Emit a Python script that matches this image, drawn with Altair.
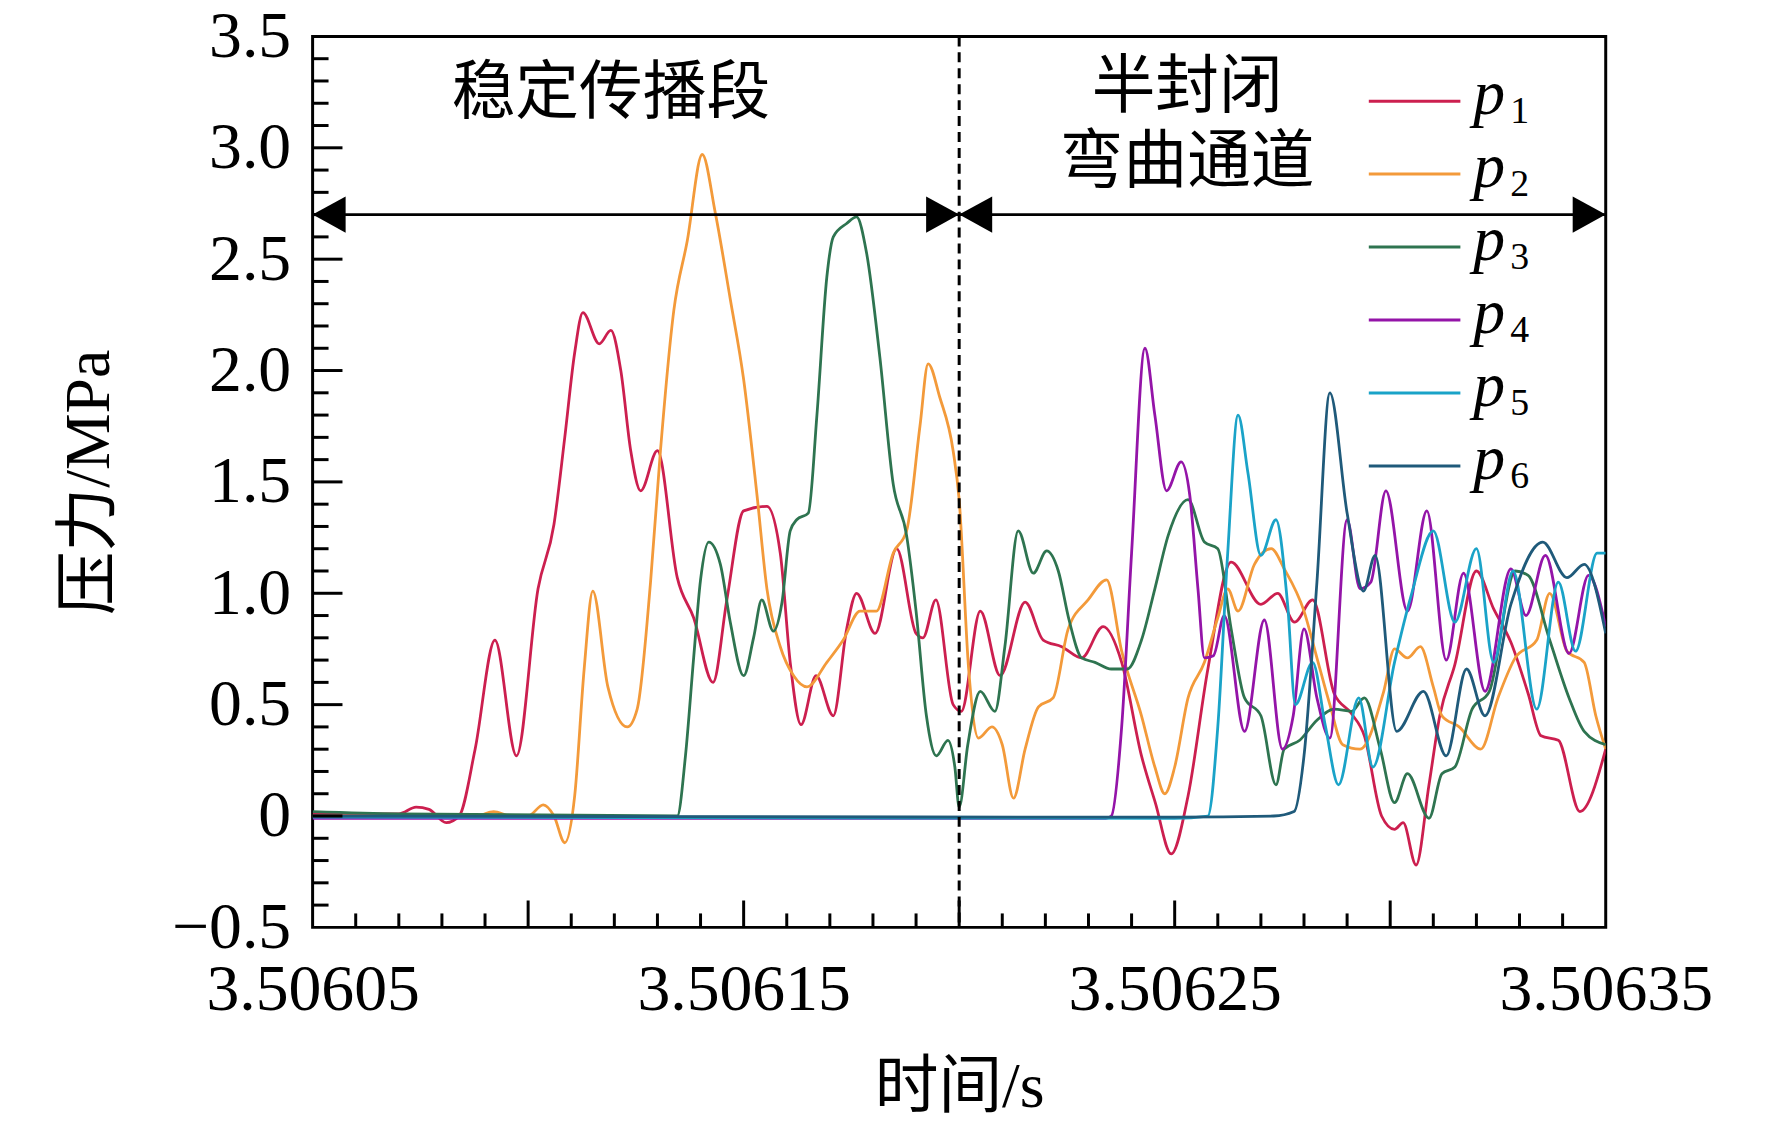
import altair as alt
import pandas as pd

# ---------------- data ----------------
names = ["p1", "p2", "p3", "p4", "p5", "p6"]
colors = ["#cc1f4f", "#f39a3a", "#2e7450", "#9414a8", "#1aa3c8", "#1f5a7a"]

p1_t = [3.50605, 3.506065, 3.50607, 3.506074, 3.506077, 3.506081, 3.506084, 3.5060877,
        3.5060923, 3.5060973, 3.5061023, 3.506106, 3.5061085, 3.5061108, 3.5061127,
        3.5061165, 3.5061192, 3.5061215, 3.5061238, 3.5061261, 3.50613, 3.5061346,
        3.5061384, 3.5061429, 3.5061461, 3.50615, 3.5061554, 3.5061585, 3.5061608,
        3.5061633, 3.5061668, 3.5061708, 3.5061739, 3.5061762, 3.5061805, 3.5061855,
        3.50619, 3.5061916, 3.5061946, 3.5061986, 3.5062005, 3.5062049, 3.5062095,
        3.5062153, 3.5062195, 3.5062238, 3.5062284, 3.5062334, 3.5062377, 3.5062423,
        3.5062455, 3.5062492, 3.5062531, 3.5062577, 3.5062631, 3.50627, 3.5062739,
        3.5062778, 3.506282, 3.506287, 3.506291, 3.506294, 3.506298, 3.506301,
        3.506303, 3.506306, 3.506309, 3.5063115, 3.506315, 3.50632, 3.506324,
        3.506328, 3.506332, 3.506335, 3.506339, 3.506344, 3.50635]
p1_v = [0.01, 0.01, 0.01, 0.04, 0.03, -0.03, 0.0, 0.30,
        0.79, 0.27, 1.02, 1.31, 1.70, 2.08, 2.26,
        2.12, 2.18, 2.00, 1.64, 1.46, 1.64, 1.07,
        0.89, 0.60, 0.97, 1.37, 1.39, 1.18, 0.69,
        0.41, 0.63, 0.45, 0.84, 1.00, 0.82, 1.20,
        0.82, 0.80, 0.97, 0.50, 0.47, 0.92, 0.63,
        0.96, 0.79, 0.76, 0.71, 0.85, 0.69, 0.27,
        0.06, -0.17, 0.09, 0.66, 1.14, 0.95, 1.00,
        0.87, 0.97, 0.55, 0.46, 0.36, 0.0, -0.06,
        -0.03, -0.22, 0.14, 0.45, 0.68, 1.10, 0.93,
        0.78, 0.55, 0.36, 0.34, 0.02, 0.30]

p2_t = [3.50605, 3.506088, 3.506092, 3.506096, 3.5061, 3.5061035, 3.506106, 3.5061085,
        3.5061108, 3.506113, 3.506115, 3.5061185, 3.506123, 3.5061253, 3.5061284,
        3.5061307, 3.5061338, 3.5061369, 3.5061404, 3.5061434, 3.5061469, 3.50615,
        3.5061531, 3.5061554, 3.5061585, 3.5061616, 3.5061647, 3.5061693, 3.5061731,
        3.506177, 3.5061808, 3.5061847, 3.5061878, 3.5061909, 3.5061928, 3.5061955,
        3.5061986, 3.5062, 3.5062022, 3.5062045, 3.5062076, 3.50621, 3.5062126,
        3.5062153, 3.5062184, 3.5062218, 3.5062253, 3.5062299, 3.5062342, 3.5062377,
        3.5062423, 3.5062454, 3.5062477, 3.50625, 3.5062531, 3.5062569, 3.50626,
        3.5062623, 3.5062647, 3.5062685, 3.5062724, 3.5062754, 3.50628, 3.506283,
        3.506286, 3.506289, 3.506293, 3.5062985, 3.506301, 3.506304, 3.506307,
        3.50631, 3.506312, 3.506316, 3.506321, 3.506325, 3.506329, 3.506334,
        3.506337, 3.506341, 3.506345, 3.5063477, 3.50635]
p2_v = [0.0, 0.0, 0.02, 0.0, 0.0, 0.05, 0.0, -0.12,
        0.09, 0.66, 1.01, 0.58, 0.40, 0.48, 1.05,
        1.64, 2.27, 2.58, 2.97, 2.71, 2.32, 1.96,
        1.44, 1.02, 0.76, 0.63, 0.58, 0.69, 0.79,
        0.92, 0.92, 1.18, 1.28, 1.75, 2.03, 1.88,
        1.64, 1.42, 0.66, 0.35, 0.40, 0.32, 0.08,
        0.30, 0.49, 0.53, 0.84, 0.97, 1.06, 0.74,
        0.45, 0.22, 0.10, 0.22, 0.53, 0.69, 0.89,
        1.02, 0.92, 1.13, 1.20, 1.11, 0.92, 0.71,
        0.50, 0.32, 0.30, 0.56, 0.75, 0.71, 0.76,
        0.58, 0.45, 0.40, 0.30, 0.53, 0.71, 0.79,
        1.00, 0.74, 0.69, 0.45, 0.30]

p3_t = [3.50605, 3.50607, 3.5061346, 3.5061365, 3.5061384, 3.50614, 3.5061419, 3.5061446,
        3.5061469, 3.50615, 3.5061523, 3.5061542, 3.5061569, 3.5061589, 3.5061608,
        3.5061623, 3.506165, 3.506167, 3.5061693, 3.5061708, 3.5061739, 3.5061762,
        3.5061785, 3.5061816, 3.5061847, 3.5061878, 3.50619, 3.5061924, 3.5061947,
        3.5061974, 3.506199, 3.5062, 3.506202, 3.5062049, 3.5062083, 3.5062106,
        3.5062137, 3.5062172, 3.5062203, 3.506223, 3.5062255, 3.5062284, 3.5062315,
        3.5062353, 3.506239, 3.5062423, 3.5062454, 3.5062485, 3.5062531, 3.5062569,
        3.50626, 3.5062631, 3.5062662, 3.50627, 3.5062735, 3.5062754, 3.506279,
        3.506283, 3.506287, 3.506291, 3.506294, 3.5062977, 3.506301, 3.506304,
        3.506309, 3.506312, 3.506315, 3.506319, 3.506323, 3.506329, 3.506332,
        3.506337, 3.5063415, 3.506345, 3.50635]
p3_v = [0.02, 0.01, 0.0, 0.27, 0.71, 1.06, 1.23, 1.13,
        0.87, 0.63, 0.80, 0.97, 0.83, 0.96, 1.28,
        1.33, 1.36, 1.80, 2.42, 2.60, 2.66, 2.69,
        2.53, 2.06, 1.49, 1.26, 0.92, 0.45, 0.27,
        0.34, 0.22, 0.04, 0.32, 0.56, 0.47, 0.76,
        1.28, 1.09, 1.19, 1.10, 0.88, 0.71, 0.69,
        0.66, 0.66, 0.79, 1.02, 1.26, 1.42, 1.23,
        1.20, 0.84, 0.53, 0.45, 0.14, 0.30, 0.34,
        0.43, 0.48, 0.47, 0.53, 0.30, 0.06, 0.19,
        -0.01, 0.19, 0.22, 0.48, 0.56, 1.10, 1.08,
        0.79, 0.53, 0.38, 0.32]

p4_t = [3.50605, 3.506234, 3.5062353, 3.5062377, 3.50624, 3.5062431, 3.5062454, 3.5062481,
        3.5062515, 3.5062535, 3.5062554, 3.5062569, 3.506259, 3.5062615, 3.5062662,
        3.5062708, 3.506275, 3.5062775, 3.50628, 3.506283, 3.506286, 3.50629,
        3.506293, 3.5062955, 3.506299, 3.506304, 3.5063085, 3.506313, 3.506317,
        3.506322, 3.506328, 3.5063315, 3.506336, 3.5063415, 3.506346, 3.50635]
p4_v = [-0.01, -0.01, 0.0, 0.40, 1.18, 2.10, 1.80, 1.46,
        1.59, 1.44, 1.02, 0.71, 0.72, 0.90, 0.38,
        0.88, 0.30, 0.45, 0.84, 0.53, 0.35, 1.33,
        1.02, 1.05, 1.46, 0.92, 1.37, 0.70, 1.09,
        0.56, 1.11, 0.90, 1.17, 0.73, 1.08, 0.85]

p5_t = [3.50605, 3.50625, 3.5062577, 3.50626, 3.5062623, 3.5062647, 3.506267, 3.50627,
        3.5062735, 3.5062762, 3.506278, 3.506282, 3.506285, 3.506288, 3.5062927,
        3.506296, 3.506301, 3.506305, 3.50631, 3.506315, 3.50632, 3.506324,
        3.5063285, 3.506334, 3.506339, 3.506343, 3.506348, 3.50635]
p5_v = [-0.005, -0.01, 0.0, 0.40, 1.18, 1.80, 1.54, 1.17,
        1.33, 0.95, 0.50, 0.69, 0.40, 0.14, 0.53,
        0.22, 0.69, 1.00, 1.28, 0.87, 1.20, 0.69,
        1.10, 0.48, 1.05, 0.74, 1.18, 1.18]

p6_t = [3.50605, 3.50625, 3.506273, 3.5062777, 3.50628, 3.506283, 3.506286, 3.50629,
        3.5062938, 3.5062965, 3.5063015, 3.5063077, 3.506313, 3.5063177, 3.506322,
        3.506328, 3.5063354, 3.506341, 3.506345, 3.50635]
p6_v = [0.0, -0.005, 0.0, 0.02, 0.27, 1.05, 1.90, 1.36,
        1.01, 1.17, 0.38, 0.56, 0.27, 0.66, 0.45,
        0.95, 1.23, 1.07, 1.13, 0.82]

x_label_values = [3.50605, 3.50615, 3.50625, 3.50635]
y_label_values = [-0.5, 0.0, 0.5, 1.0, 1.5, 2.0, 2.5, 3.0, 3.5]
x_minor_ticks = [3.50606, 3.50607, 3.50608, 3.50609, 3.50611, 3.50612, 3.50613, 3.50614,
                 3.50616, 3.50617, 3.50618, 3.50619, 3.50621, 3.50622, 3.50623, 3.50624,
                 3.50626, 3.50627, 3.50628, 3.50629, 3.50631, 3.50632, 3.50633, 3.50634]
x_major_ticks = [3.50610, 3.50615, 3.50620, 3.50625, 3.50630]
y_minor_ticks = [-0.4, -0.3, -0.2, -0.1, 0.1, 0.2, 0.3, 0.4, 0.6, 0.7, 0.8, 0.9,
                 1.1, 1.2, 1.3, 1.4, 1.6, 1.7, 1.8, 1.9, 2.1, 2.2, 2.3, 2.4,
                 2.6, 2.7, 2.8, 2.9, 3.1, 3.2, 3.3, 3.4]
y_major_ticks = [0.0, 0.5, 1.0, 1.5, 2.0, 2.5, 3.0]

split_time = [3.50620]
arrow_level = [2.7]
arrow_left_tips = [3.50605, 3.50620]
arrow_right_tips = [3.50620, 3.50635]

ann_text = ["稳定传播段", "半封闭", "弯曲通道"]
ann_t = [3.5061192, 3.5062529, 3.5062529]
ann_y = [3.24, 3.27, 2.93]

# ---------------- build ----------------
frames = []
for name, tt, vv in zip(names, [p1_t, p2_t, p3_t, p4_t, p5_t, p6_t],
                        [p1_v, p2_v, p3_v, p4_v, p5_v, p6_v]):
    frames.append(pd.DataFrame({"t": tt, "p": vv, "s": name}))
df = pd.concat(frames, ignore_index=True)

W, H = 1299, 895
SERIF = "Liberation Serif"
CJK = "Liberation Serif, Noto Sans CJK SC"

xs = alt.Scale(domain=[3.50605, 3.50635], nice=False, zero=False)
ys = alt.Scale(domain=[-0.5, 3.5], nice=False, zero=False)

x_axis = alt.Axis(
    values=x_label_values, format=".5f", title="时间/s",
    ticks=False, tickSize=0, domain=False, grid=False,
    labelFont=SERIF, labelFontSize=66, labelColor="black", labelPadding=30,
    labelFlush=False, labelLimit=600, labelOverlap=False,
    titleFont=CJK, titleFontSize=64, titleFontWeight="normal",
    titleColor="black", titlePadding=34)
y_axis = alt.Axis(
    values=y_label_values, title="压力/MPa",
    labelExpr="datum.value == 0 ? '0' : format(datum.value, '.1f')",
    ticks=False, tickSize=0, domain=False, grid=False,
    labelFont=SERIF, labelFontSize=66, labelColor="black", labelPadding=22,
    labelFlush=False, labelLimit=600, labelOverlap=False,
    titleFont=CJK, titleFontSize=64, titleFontWeight="normal",
    titleColor="black", titlePadding=50)


def X(field):
    return alt.X(field, scale=xs, axis=x_axis, title="时间/s")


def Y(field):
    return alt.Y(field, scale=ys, axis=y_axis, title="压力/MPa")


lines = alt.Chart(df).mark_line(strokeWidth=2.8, interpolate="monotone", clip=True).encode(
    x=X("t:Q"),
    y=Y("p:Q"),
    color=alt.Color("s:N", scale=alt.Scale(domain=names, range=colors), legend=None),
    detail="s:N",
)


def xtick_layer(vals, length):
    d = pd.DataFrame({"t": vals})
    return alt.Chart(d).mark_rule(color="black", strokeWidth=3).encode(
        x=X("t:Q"), y=alt.value(H), y2=alt.value(H - length))


def ytick_layer(vals, length):
    d = pd.DataFrame({"p": vals})
    return alt.Chart(d).mark_rule(color="black", strokeWidth=3).encode(
        y=Y("p:Q"), x=alt.value(0), x2=alt.value(length))


split = alt.Chart(pd.DataFrame({"t": split_time})).mark_rule(
    color="black", strokeWidth=3, strokeDash=[10, 6]).encode(
    x=X("t:Q"), y=alt.value(0), y2=alt.value(H))

arrow_line = alt.Chart(pd.DataFrame({"p": arrow_level})).mark_rule(
    color="black", strokeWidth=3).encode(
    y=Y("p:Q"), x=alt.value(0), x2=alt.value(W))

left_heads = alt.Chart(pd.DataFrame({"t": arrow_left_tips, "p": arrow_level * 2})).mark_point(
    shape="M0,0L2,-1.1L2,1.1Z", size=1100, filled=True, color="black", opacity=1).encode(
    x=X("t:Q"), y=Y("p:Q"))

right_heads = alt.Chart(pd.DataFrame({"t": arrow_right_tips, "p": arrow_level * 2})).mark_point(
    shape="M0,0L-2,-1.1L-2,1.1Z", size=1100, filled=True, color="black", opacity=1).encode(
    x=X("t:Q"), y=Y("p:Q"))

ann = alt.Chart(pd.DataFrame({"txt": ann_text, "t": ann_t, "p": ann_y})).mark_text(
    font=CJK, fontSize=64, color="black", align="center", baseline="middle").encode(
    x=X("t:Q"), y=Y("p:Q"), text="txt:N")

# hand-drawn legend (italic p with upright subscript)
legend_layers = []
for i, (name, col) in enumerate(zip(names, colors)):
    y0 = 65 + 73.3 * i
    one = pd.DataFrame({"s": [name], "sub": [name[1:]]})
    legend_layers.append(alt.Chart(one).mark_rule(strokeWidth=3, color=col).encode(
        x=alt.value(1061), x2=alt.value(1153), y=alt.value(y0)))
    legend_layers.append(alt.Chart(one).mark_text(
        font=SERIF, fontStyle="italic", fontSize=64, color="black",
        align="left", baseline="alphabetic").encode(
        x=alt.value(1166), y=alt.value(y0 + 13), text=alt.value("p")))
    legend_layers.append(alt.Chart(one).mark_text(
        font=SERIF, fontSize=38, color="black", align="left", baseline="alphabetic").encode(
        x=alt.value(1203), y=alt.value(y0 + 22), text="sub:N"))

chart = alt.layer(
    lines, split, arrow_line, left_heads, right_heads, ann,
    xtick_layer(x_minor_ticks, 14), xtick_layer(x_major_ticks, 27),
    ytick_layer(y_minor_ticks, 16), ytick_layer(y_major_ticks, 30),
    *legend_layers,
).properties(
    width=W, height=H,
    autosize=alt.AutoSizeParams(type="none"),
    padding={"left": 306, "top": 26, "right": 159, "bottom": 204},
    background="white",
).configure_view(stroke="black", strokeWidth=3)

chart.save("out.html", embed_options={"renderer": "svg", "actions": False})
